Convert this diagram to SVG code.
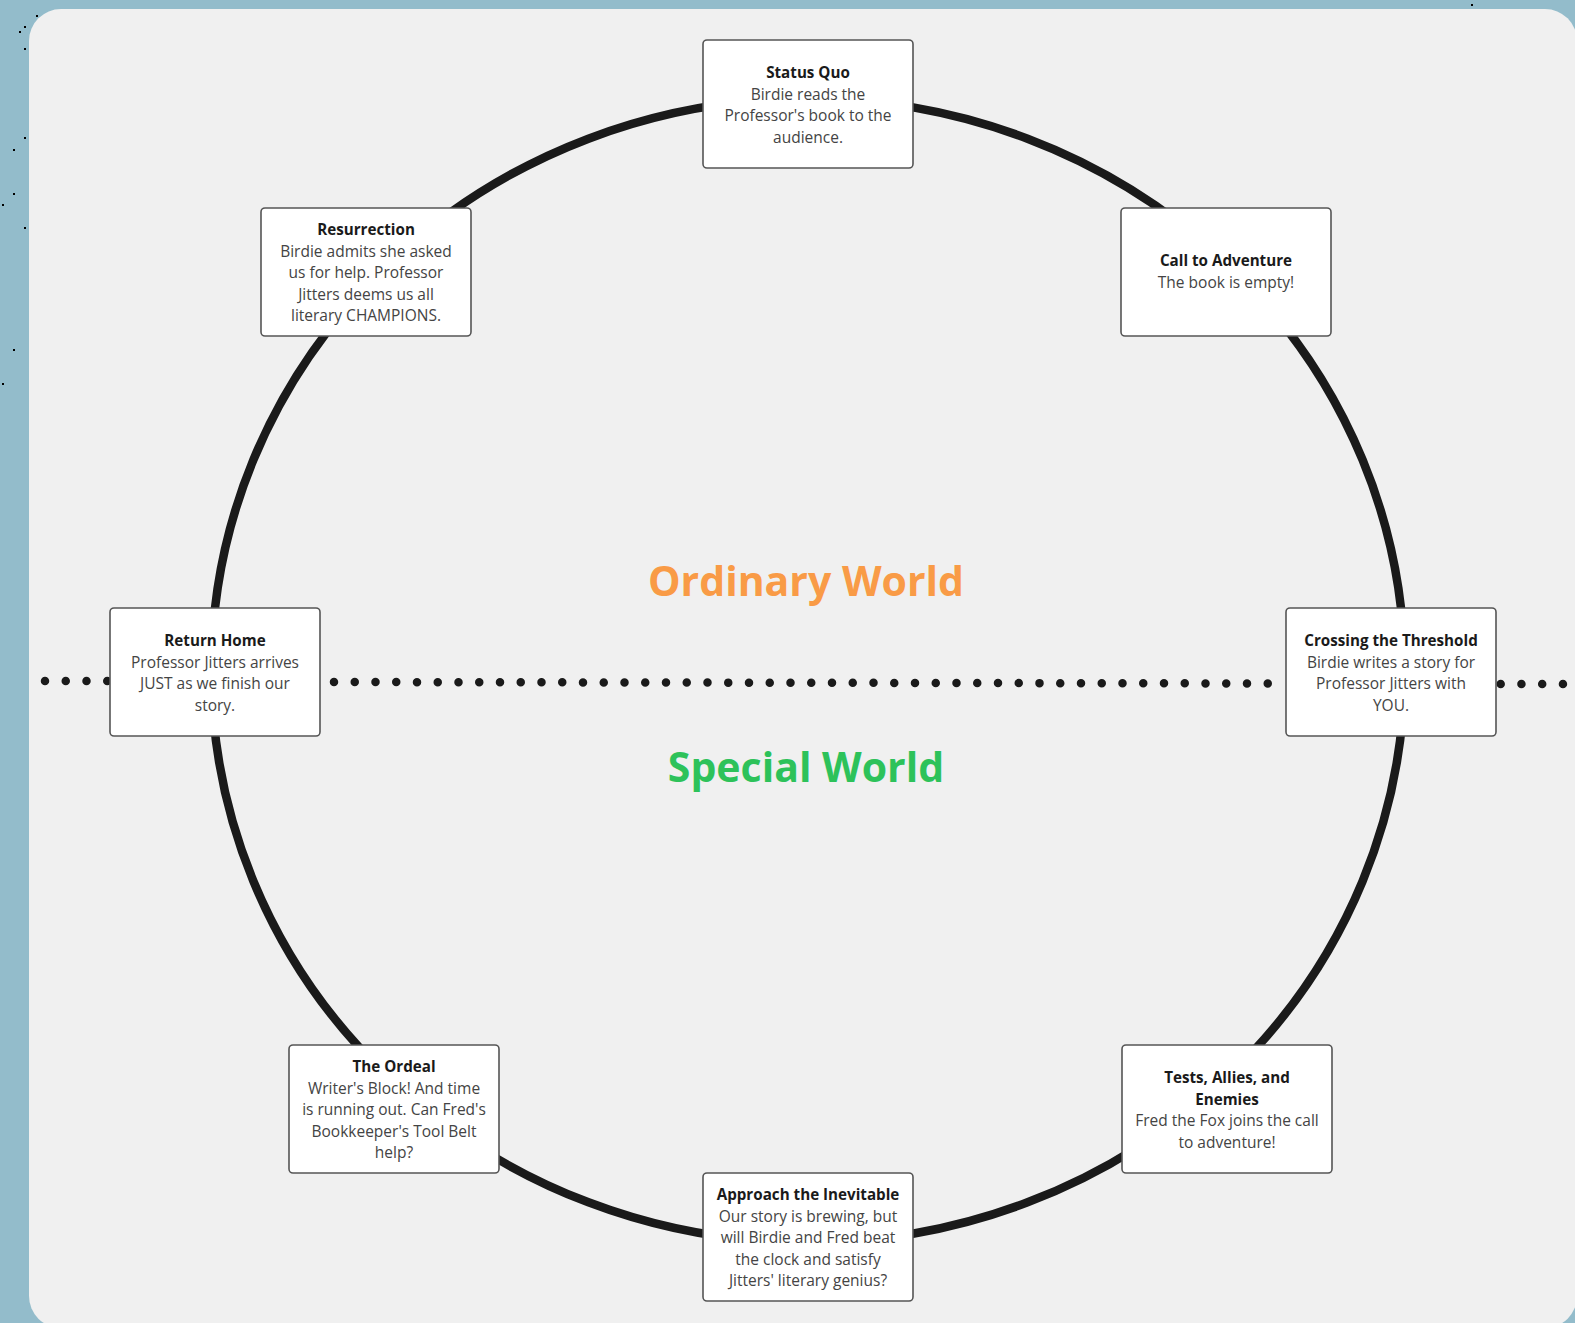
<svg xmlns="http://www.w3.org/2000/svg" width="1575" height="1323" viewBox="0 0 1575 1323">
<style>
.bg{fill:#93bccb}
.panel{fill:#f0f0f0}
.box{fill:#ffffff;stroke:#555555;stroke-width:1.6}
.t{font-family:"Open Sans","Noto Sans","DejaVu Sans",sans-serif;font-size:15.5px;text-anchor:middle}
.h{font-weight:700;fill:#1a1a1a;font-size:15.2px}
.b{font-weight:400;fill:#444444}
.big{font-family:"Open Sans","Noto Sans","DejaVu Sans",sans-serif;font-size:41px;font-weight:700;text-anchor:middle}
.ring{fill:none;stroke:#1a1a1a;stroke-width:8.5}
.dots{fill:none;stroke:#1a1a1a;stroke-width:8.5;stroke-linecap:round;stroke-dasharray:0 20.75}
.speck{fill:#000}
</style>
<rect class="bg" x="0" y="0" width="1575" height="1323"/>
<g id="specks">
<rect class="speck" x="36" y="15" width="2" height="2"/>
<rect class="speck" x="24" y="26" width="2" height="2"/>
<rect class="speck" x="19" y="31" width="2" height="2"/>
<rect class="speck" x="24" y="48" width="2" height="2"/>
<rect class="speck" x="24" y="137" width="2" height="2"/>
<rect class="speck" x="13" y="149" width="2" height="2"/>
<rect class="speck" x="13" y="193" width="2" height="2"/>
<rect class="speck" x="2" y="204" width="2" height="2"/>
<rect class="speck" x="24" y="227" width="2" height="2"/>
<rect class="speck" x="13" y="349" width="2" height="2"/>
<rect class="speck" x="2" y="383" width="2" height="2"/>
<rect class="speck" x="1471" y="4" width="2" height="2"/>
</g>
<rect class="panel" x="29" y="9" width="1548" height="1319" rx="32"/>
<g id="connectors">
<ellipse class="ring" cx="808" cy="670.5" rx="596.5" ry="572"/>
<line class="dots" x1="45" y1="681" x2="110" y2="681"/>
<line class="dots" x1="334" y1="682" x2="1273" y2="683.5"/>
<line class="dots" x1="1500.7" y1="684" x2="1580" y2="684"/>
</g>
<text class="big" x="806" y="596" fill="#f99b46">Ordinary World</text>
<text class="big" x="806" y="782" fill="#2dc25a">Special World</text>
<g id="status-quo">
<rect class="box" x="703" y="40" width="210" height="128" rx="4"/>
<text class="t h" x="808" y="78">Status Quo</text>
<text class="t b" x="808" y="99.5">Birdie reads the</text>
<text class="t b" x="808" y="121">Professor's book to the</text>
<text class="t b" x="808" y="142.5">audience.</text>
</g>
<g id="call-to-adventure">
<rect class="box" x="1121" y="208" width="210" height="128" rx="4"/>
<text class="t h" x="1226" y="266">Call to Adventure</text>
<text class="t b" x="1226" y="287.5">The book is empty!</text>
</g>
<g id="crossing-the-threshold">
<rect class="box" x="1286" y="608" width="210" height="128" rx="4"/>
<text class="t h" x="1391" y="646">Crossing the Threshold</text>
<text class="t b" x="1391" y="667.5">Birdie writes a story for</text>
<text class="t b" x="1391" y="689">Professor Jitters with</text>
<text class="t b" x="1391" y="710.5">YOU.</text>
</g>
<g id="tests-allies-enemies">
<rect class="box" x="1122" y="1045" width="210" height="128" rx="4"/>
<text class="t h" x="1227" y="1083">Tests, Allies, and</text>
<text class="t h" x="1227" y="1104.5">Enemies</text>
<text class="t b" x="1227" y="1126">Fred the Fox joins the call</text>
<text class="t b" x="1227" y="1147.5">to adventure!</text>
</g>
<g id="approach-the-inevitable">
<rect class="box" x="703" y="1173" width="210" height="128" rx="4"/>
<text class="t h" x="808" y="1200">Approach the Inevitable</text>
<text class="t b" x="808" y="1221.5">Our story is brewing, but</text>
<text class="t b" x="808" y="1243">will Birdie and Fred beat</text>
<text class="t b" x="808" y="1264.5">the clock and satisfy</text>
<text class="t b" x="808" y="1286">Jitters' literary genius?</text>
</g>
<g id="the-ordeal">
<rect class="box" x="289" y="1045" width="210" height="128" rx="4"/>
<text class="t h" x="394" y="1072">The Ordeal</text>
<text class="t b" x="394" y="1093.5">Writer's Block! And time</text>
<text class="t b" x="394" y="1115">is running out. Can Fred's</text>
<text class="t b" x="394" y="1136.5">Bookkeeper's Tool Belt</text>
<text class="t b" x="394" y="1158">help?</text>
</g>
<g id="return-home">
<rect class="box" x="110" y="608" width="210" height="128" rx="4"/>
<text class="t h" x="215" y="646">Return Home</text>
<text class="t b" x="215" y="667.5">Professor Jitters arrives</text>
<text class="t b" x="215" y="689">JUST as we finish our</text>
<text class="t b" x="215" y="710.5">story.</text>
</g>
<g id="resurrection">
<rect class="box" x="261" y="208" width="210" height="128" rx="4"/>
<text class="t h" x="366" y="235">Resurrection</text>
<text class="t b" x="366" y="256.5">Birdie admits she asked</text>
<text class="t b" x="366" y="278">us for help. Professor</text>
<text class="t b" x="366" y="299.5">Jitters deems us all</text>
<text class="t b" x="366" y="321">literary CHAMPIONS.</text>
</g>
</svg>
